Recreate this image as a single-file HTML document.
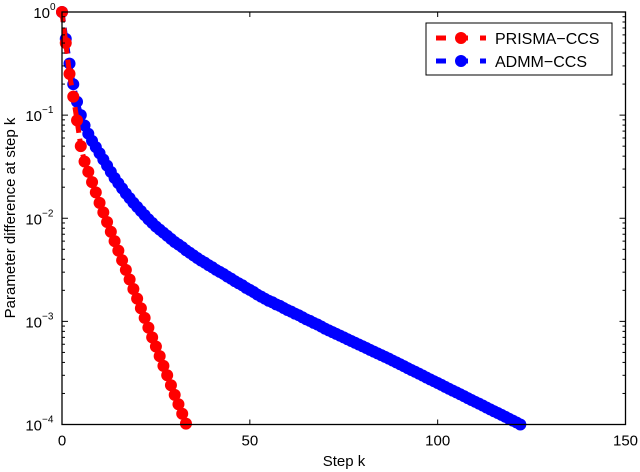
<!DOCTYPE html>
<html><head><meta charset="utf-8"><style>
body{margin:0;background:#fff}
svg text{font-family:"Liberation Sans",Arial,sans-serif;fill:#000}
</style></head><body>
<svg id="c" width="640" height="472" viewBox="0 0 640 472" xmlns="http://www.w3.org/2000/svg" style="position:absolute;left:0;top:0"></svg>
<script>
const xTicks=[0,50,100,150];
const yTickExps=[0,-1,-2,-3,-4];
const prismaValues=[1,0.5,0.251,0.151,0.089,0.050,0.0355,0.0282,0.0224,0.0178,0.0141,0.0114,0.0092,0.0074,0.0060,0.00485,0.00391,0.00316,0.00255,0.00206,0.00166,0.00134,0.00108,0.00087,0.00070,0.00057,0.00046,0.00037,0.00030,0.00024,0.000194,0.000157,0.000127,0.000102];
// ADMM values stored as log10 of the parameter difference
const admmLog10Values=[0,-0.26,-0.50,-0.70,-0.87,-1.00,-1.10,-1.18,-1.25,-1.31,-1.37,-1.43,-1.49,-1.55,-1.61,-1.66,-1.71,-1.76,
-1.805,-1.85,-1.89,-1.93,-1.97,-2.01,-2.045,-2.08,-2.11,
-2.14,-2.17,-2.20,-2.23,-2.255,-2.28,-2.31,-2.335,-2.36,-2.385,-2.41,
-2.43,-2.455,-2.475,-2.50,-2.52,-2.54,-2.565,-2.585,-2.61,-2.63,-2.65,-2.675,-2.695,-2.715,-2.74,-2.76,
-2.78,-2.80,-2.815,-2.835,-2.85,-2.87,-2.89,-2.905,-2.925,-2.94,-2.96,-2.98,-2.995,-3.015,-3.03,-3.05,-3.07,
-3.087,-3.104,-3.121,-3.138,-3.155,-3.173,-3.19,-3.207,-3.224,-3.241,-3.258,-3.276,-3.293,-3.31,-3.327,-3.344,-3.361,-3.38,
-3.398,-3.416,-3.434,-3.453,-3.471,-3.489,-3.507,-3.525,-3.544,-3.562,-3.58,-3.598,-3.616,-3.635,-3.653,-3.671,-3.689,-3.707,-3.725,-3.744,-3.762,-3.78,-3.798,-3.816,-3.835,-3.853,-3.871,-3.889,-3.907,-3.925,-3.944,-3.962,-3.98,-4.0];

const L=62,R=625.5,T=12,B=424.5;
const xs=v=>L+(v-0)/(150-0)*(R-L);
const ysLog=l=>T+(0-l)/4*(B-T);
const ys=v=>ysLog(Math.log10(v));
const svg=document.getElementById('c');
const NS='http://www.w3.org/2000/svg';
function mk(tag,attrs,parent){const e=document.createElementNS(NS,tag);for(const k in attrs)e.setAttribute(k,attrs[k]);(parent||svg).appendChild(e);return e;}

function series(pts,color,name){
  const g=mk('g',{});
  
  
  const pl=mk('polyline',{points:pts.map(p=>p[0]+','+p[1]).join(' '),fill:'none',stroke:color,'stroke-width':5,'stroke-dasharray':'10 6'},g);
  
  
  pts.forEach(p=>{
    const c=mk('circle',{cx:p[0],cy:p[1],r:6,fill:color},g);
    
    
  });
}
series(admmLog10Values.map((l,i)=>[xs(i),ysLog(l)]),'#0000ff','admm-ccs-series');
series(prismaValues.map((v,i)=>[xs(i),ys(v)]),'#ff0000','prisma-ccs-series');

const box=mk('rect',{x:L,y:T,width:R-L,height:B-T,fill:'none',stroke:'#000','stroke-width':1.3});



xTicks.forEach(t=>{
  const x=xs(t);
  mk('line',{x1:x,x2:x,y1:B,y2:B-5,stroke:'#000'});
  mk('line',{x1:x,x2:x,y1:T,y2:T+5,stroke:'#000'});
  const tx=mk('text',{x:x,y:B+21,'font-size':15,'text-anchor':'middle'});
  tx.textContent=t;
  
  
});
yTickExps.forEach(e=>{
  const y=ysLog(e);
  mk('line',{x1:L,x2:L+6,y1:y,y2:y,stroke:'#000'});
  mk('line',{x1:R,x2:R-6,y1:y,y2:y,stroke:'#000'});
  if(e>-4){for(let m=2;m<=9;m++){const yy=ysLog(e-1+Math.log10(m));
    mk('line',{x1:L,x2:L+3,y1:yy,y2:yy,stroke:'#000'});
    mk('line',{x1:R,x2:R-3,y1:yy,y2:yy,stroke:'#000'});}}
  const tx=mk('text',{x:L-4-(e===0?8:16),y:y+6,'font-size':15,'text-anchor':'end'});
  
  
  tx.textContent='10';
  const sup=mk('text',{x:L-4-(e===0?8:16),y:y-2,'font-size':10,'text-anchor':'start'});
  sup.textContent=e===0?'0':'\u2212'+(-e);
  
  
});
</script>
<svg style="position:absolute;left:0;top:0" width="640" height="472" xmlns="http://www.w3.org/2000/svg">
<text x="344" y="466" font-size="15" text-anchor="middle" font-family="Liberation Sans, sans-serif">Step k</text>
<text transform="translate(15,218) rotate(-90)" font-size="15" text-anchor="middle" font-family="Liberation Sans, sans-serif">Parameter difference at step k</text>
<g>
<rect x="426" y="23" width="186" height="52" fill="#fff" stroke="#000" stroke-width="1"/>
<g>
<line x1="436" x2="486" y1="38" y2="38" stroke="#f00" stroke-width="5" stroke-dasharray="10 12"/>
<circle cx="461" cy="38" r="6" fill="#f00"/>
<text x="495" y="44" font-size="16" font-family="Liberation Sans, sans-serif">PRISMA−CCS</text>
</g>
<g>
<line x1="436" x2="486" y1="61" y2="61" stroke="#00f" stroke-width="5" stroke-dasharray="10 12"/>
<circle cx="461" cy="61" r="6" fill="#00f"/>
<text x="495" y="67" font-size="16" font-family="Liberation Sans, sans-serif">ADMM−CCS</text>
</g>
</g>
</svg>
</body></html>
